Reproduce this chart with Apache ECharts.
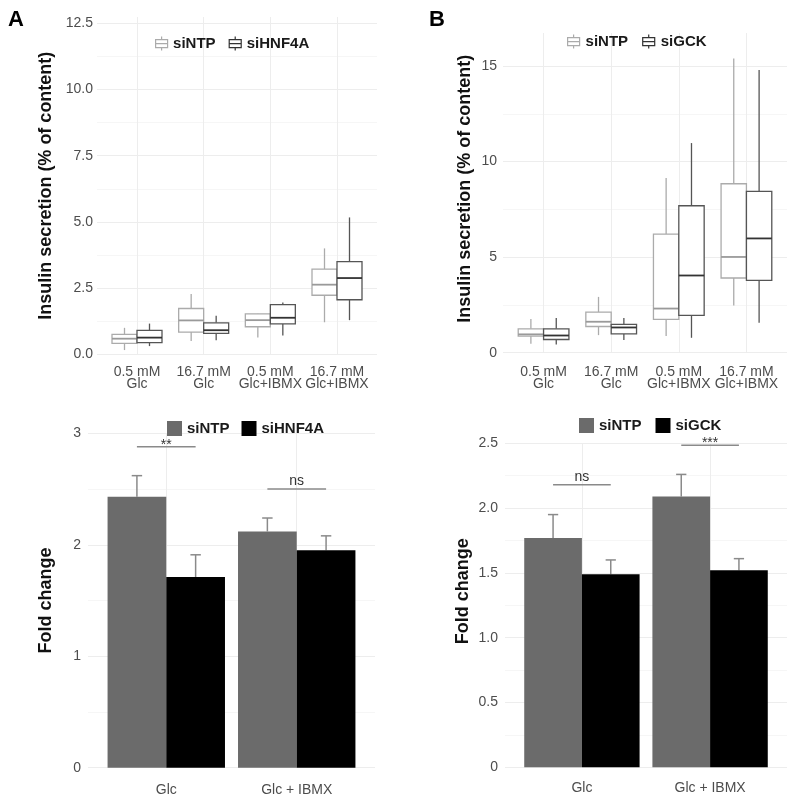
<!DOCTYPE html>
<html><head><meta charset="utf-8">
<script src="https://cdn.jsdelivr.net/npm/echarts@6/dist/echarts.min.js"></script>
<style>html,body{margin:0;padding:0;background:#fff}#c{width:789px;height:799px}</style>
</head><body><div id="c"></div>
<script>
// ---------- DATA ----------
const boxCategories = ['0.5 mM\nGlc', '16.7 mM\nGlc', '0.5 mM\nGlc+IBMX', '16.7 mM\nGlc+IBMX'];
const barCategories = ['Glc', 'Glc + IBMX'];
// boxplots: [min, q1, median, q3, max]
const boxA_siNTP   = [[0.16,0.41,0.59,0.75,1.00],[0.50,0.84,1.28,1.73,2.28],[0.63,1.04,1.29,1.53,1.54],[1.21,2.23,2.63,3.22,4.00]];
const boxA_siHNF4A = [[0.31,0.44,0.63,0.90,1.16],[0.53,0.79,0.91,1.19,1.46],[0.71,1.15,1.38,1.88,1.96],[1.29,2.06,2.88,3.50,5.17]];
const boxB_siNTP   = [[0.47,0.87,0.96,1.25,1.77],[0.92,1.37,1.62,2.12,2.92],[0.87,1.74,2.31,6.21,9.14],[2.47,3.91,5.01,8.84,15.40]];
const boxB_siGCK   = [[0.43,0.69,0.90,1.25,1.81],[0.66,0.99,1.32,1.48,1.81],[0.78,1.95,4.04,7.69,10.97],[1.57,3.78,5.98,8.44,14.79]];
// fold change bars: mean and SE
const barA_siNTP_mean = [2.43, 2.12];   const barA_siNTP_se = [0.19, 0.12];
const barA_siHNF4A_mean = [1.71, 1.95]; const barA_siHNF4A_se = [0.20, 0.13];
const barB_siNTP_mean = [1.77, 2.09];   const barB_siNTP_se = [0.18, 0.17];
const barB_siGCK_mean = [1.49, 1.52];   const barB_siGCK_se = [0.11, 0.09];
// significance brackets
const sigA_y = [2.88, 2.50]; const sigA_labels = ['**', 'ns'];
const sigB_y = [2.18, 2.485]; const sigB_labels = ['ns', '***'];
const yTicksTopA = [0, 2.5, 5, 7.5, 10, 12.5];
const yTicksTopB = [0, 5, 10, 15];

// ---------- STYLE ----------
const FONT = "'Liberation Sans', Arial, sans-serif";
const BOX_W = 0.375, BAR_W = 0.45, CAP_W = 0.08;
const C_NTP_BOX = '#ababab', C_KD_BOX = '#555555';
const C_NTP_BAR = '#6b6b6b', C_KD_BAR = '#000000', C_ERR = '#8a8a8a';
const GRID_MAJOR = '#ededed', GRID_MINOR = '#f6f6f6';
const BOX_ICON = 'path://M6,0L6,3M0,3L12,3L12,11L0,11ZM0,7L12,7M6,11L6,14';

function boxRows(arr) { return arr.map((v, i) => [i + 1].concat(v)); }
function barRows(mean, se) { return mean.map((v, i) => [i + 1, v, se[i]]); }
function sigRows(ys) { return ys.map((v, i) => [i + 1, v]); }

function boxRender(offset, color, medColor) {
  return function (params, api) {
    const x = api.value(0) + offset;
    const w = api.size([BOX_W, 0])[0];
    const pMin = api.coord([x, api.value(1)]);
    const pQ1 = api.coord([x, api.value(2)]);
    const pMed = api.coord([x, api.value(3)]);
    const pQ3 = api.coord([x, api.value(4)]);
    const pMax = api.coord([x, api.value(5)]);
    const cx = pMin[0], l = cx - w / 2;
    const ls = { stroke: color, lineWidth: 1.3 };
    return { type: 'group', children: [
      { type: 'line', shape: { x1: cx, y1: pMax[1], x2: cx, y2: pQ3[1] }, style: ls },
      { type: 'line', shape: { x1: cx, y1: pQ1[1], x2: cx, y2: pMin[1] }, style: ls },
      { type: 'rect', shape: { x: l, y: pQ3[1], width: w, height: pQ1[1] - pQ3[1] }, style: { stroke: color, lineWidth: 1.3, fill: '#fff' } },
      { type: 'line', shape: { x1: l, y1: pMed[1], x2: l + w, y2: pMed[1] }, style: { stroke: medColor, lineWidth: 1.8 } }
    ]};
  };
}
function barRender(offset, color) {
  return function (params, api) {
    const x = api.value(0) + offset;
    const w = api.size([BAR_W, 0])[0];
    const capW = api.size([CAP_W, 0])[0];
    const top = api.coord([x, api.value(1)]);
    const base = api.coord([x, 0]);
    const err = api.coord([x, api.value(1) + api.value(2)]);
    const es = { stroke: C_ERR, lineWidth: 1.5 };
    return { type: 'group', children: [
      { type: 'line', shape: { x1: top[0], y1: top[1], x2: top[0], y2: err[1] }, style: es },
      { type: 'line', shape: { x1: top[0] - capW / 2, y1: err[1], x2: top[0] + capW / 2, y2: err[1] }, style: es },
      { type: 'rect', shape: { x: top[0] - w / 2, y: top[1], width: w, height: base[1] - top[1] }, style: { fill: color } }
    ]};
  };
}
function sigRender(labels) {
  return function (params, api) {
    const c = api.value(0);
    const p1 = api.coord([c - BAR_W / 2, api.value(1)]);
    const p2 = api.coord([c + BAR_W / 2, api.value(1)]);
    const lab = labels[params.dataIndex];
    const star = lab.indexOf('*') >= 0;
    return { type: 'group', children: [
      { type: 'line', shape: { x1: p1[0], y1: p1[1], x2: p2[0], y2: p2[1] }, style: { stroke: C_ERR, lineWidth: 1.5 } },
      { type: 'text', x: (p1[0] + p2[0]) / 2, y: p1[1] + (star ? 5 : -1),
        style: { text: lab, fontSize: 14, fontFamily: FONT, fill: '#333', align: 'center', verticalAlign: 'bottom' } }
    ]};
  };
}

function xAxisBox(gi, margin) {
  return { gridIndex: gi, type: 'value', min: 0.4, max: 4.6,
    axisLine: { show: false }, axisTick: { show: false, customValues: [1, 2, 3, 4] },
    axisLabel: { customValues: [1, 2, 3, 4], formatter: v => boxCategories[Math.round(v) - 1] || '', margin: margin,
      fontSize: 14, lineHeight: 12, color: '#4d4d4d', fontFamily: FONT },
    splitLine: { show: true, lineStyle: { color: GRID_MAJOR, width: 1 } } };
}
function xAxisBar(gi, margin) {
  return { gridIndex: gi, type: 'value', min: 0.4, max: 2.6,
    axisLine: { show: false }, axisTick: { show: false, customValues: [1, 2] },
    axisLabel: { customValues: [1, 2], formatter: v => barCategories[Math.round(v) - 1] || '', margin: margin,
      fontSize: 14, color: '#4d4d4d', fontFamily: FONT },
    splitLine: { show: true, lineStyle: { color: GRID_MAJOR, width: 1 } } };
}
function yAxisDef(gi, max, interval, fmt, name, gap, pad, labMargin, showMax) {
  return { gridIndex: gi, type: 'value', min: 0, max: max, interval: interval,
    name: name, nameLocation: 'middle', nameGap: gap,
    nameTextStyle: { fontSize: 18, fontWeight: 'bold', color: '#111', fontFamily: FONT, padding: pad },
    axisLine: { show: false }, axisTick: { show: false },
    axisLabel: { formatter: fmt, showMaxLabel: showMax, fontSize: 14, color: '#4d4d4d', fontFamily: FONT, margin: labMargin },
    splitLine: { show: true, showMaxLine: showMax, lineStyle: { color: GRID_MAJOR, width: 1 } },
    minorTick: { show: false, splitNumber: 2 },
    minorSplitLine: { show: true, lineStyle: { color: GRID_MINOR, width: 1 } } };
}

const legendText = { fontSize: 15, fontWeight: 'bold', color: '#1a1a1a', fontFamily: FONT };

const option = {
  animation: false,
  backgroundColor: '#fff',
  title: [
    { text: 'A', left: 3, top: 4, textStyle: { fontSize: 22, fontWeight: 'bold', color: '#000', fontFamily: FONT } },
    { text: 'B', left: 424, top: 4, textStyle: { fontSize: 22, fontWeight: 'bold', color: '#000', fontFamily: FONT } }
  ],
  legend: [
    { left: 150, top: 31, itemWidth: 13, itemHeight: 14, itemGap: 13, textStyle: legendText, selectedMode: false,
      data: [ { name: 'siNTP', icon: BOX_ICON, itemStyle: { color: '#fff', borderColor: C_NTP_BOX, borderWidth: 1.2 } },
              { name: 'siHNF4A', icon: BOX_ICON, itemStyle: { color: '#fff', borderColor: '#333', borderWidth: 1.2 } } ] },
    { left: 562, top: 29, itemWidth: 14, itemHeight: 14, itemGap: 14, textStyle: legendText, selectedMode: false,
      data: [ { name: 'siNTP', icon: BOX_ICON, itemStyle: { color: '#fff', borderColor: C_NTP_BOX, borderWidth: 1.2 } },
              { name: 'siGCK', icon: BOX_ICON, itemStyle: { color: '#fff', borderColor: '#333', borderWidth: 1.2 } } ] },
    { left: 162, top: 416, itemWidth: 15, itemHeight: 15, itemGap: 12, textStyle: legendText, selectedMode: false,
      data: [ { name: 'siNTP', icon: 'rect', itemStyle: { color: C_NTP_BAR, borderWidth: 0 } },
              { name: 'siHNF4A', icon: 'rect', itemStyle: { color: C_KD_BAR, borderWidth: 0 } } ] },
    { left: 574, top: 413, itemWidth: 15, itemHeight: 15, itemGap: 14, textStyle: legendText, selectedMode: false,
      data: [ { name: 'siNTP', icon: 'rect', itemStyle: { color: C_NTP_BAR, borderWidth: 0 } },
              { name: 'siGCK', icon: 'rect', itemStyle: { color: C_KD_BAR, borderWidth: 0 } } ] }
  ],
  grid: [
    { left: 97, right: 412, top: 17, bottom: 444.7 },
    { left: 503, right: 2, top: 33, bottom: 446.3 },
    { left: 88, right: 414, top: 433.3, bottom: 31.3 },
    { left: 505, right: 2, top: 443.3, bottom: 31.7 }
  ],
  xAxis: [ xAxisBox(0, 12), xAxisBox(1, 13), xAxisBar(2, 15), xAxisBar(3, 14) ],
  yAxis: [
    yAxisDef(0, 12.74, 2.5, v => (yTicksTopA.indexOf(v) >= 0 ? v.toFixed(1) : ''), 'Insulin secretion (% of content)', 42, [0, 0, 0, 0], 4, false),
    yAxisDef(1, 16.73, 5, v => (yTicksTopB.indexOf(v) >= 0 ? String(v) : ''), 'Insulin secretion (% of content)', 29, [0, 0, 0, 8], 6, false),
    yAxisDef(2, 3, 1, v => String(v), 'Fold change', 33, [0, 0, 0, 0], 7, true),
    yAxisDef(3, 2.5, 0.5, v => (v === 0 ? '0' : v.toFixed(1)), 'Fold change', 33, [0, 0, 0, 28], 7, true)
  ],
  series: [
    { name: 'siNTP', type: 'custom', xAxisIndex: 0, yAxisIndex: 0, itemStyle: { color: C_NTP_BOX },
      encode: { x: 0, y: [1, 2, 3, 4, 5] }, data: boxRows(boxA_siNTP), renderItem: boxRender(-BOX_W / 2, C_NTP_BOX, '#9a9a9a') },
    { name: 'siHNF4A', type: 'custom', xAxisIndex: 0, yAxisIndex: 0, itemStyle: { color: C_KD_BOX },
      encode: { x: 0, y: [1, 2, 3, 4, 5] }, data: boxRows(boxA_siHNF4A), renderItem: boxRender(BOX_W / 2, C_KD_BOX, '#333') },
    { name: 'siNTP', type: 'custom', xAxisIndex: 1, yAxisIndex: 1, itemStyle: { color: C_NTP_BOX },
      encode: { x: 0, y: [1, 2, 3, 4, 5] }, data: boxRows(boxB_siNTP), renderItem: boxRender(-BOX_W / 2, C_NTP_BOX, '#9a9a9a') },
    { name: 'siGCK', type: 'custom', xAxisIndex: 1, yAxisIndex: 1, itemStyle: { color: C_KD_BOX },
      encode: { x: 0, y: [1, 2, 3, 4, 5] }, data: boxRows(boxB_siGCK), renderItem: boxRender(BOX_W / 2, C_KD_BOX, '#333') },
    { name: 'siNTP', type: 'custom', xAxisIndex: 2, yAxisIndex: 2, itemStyle: { color: C_NTP_BAR },
      encode: { x: 0, y: 1 }, data: barRows(barA_siNTP_mean, barA_siNTP_se), renderItem: barRender(-BAR_W / 2, C_NTP_BAR) },
    { name: 'siHNF4A', type: 'custom', xAxisIndex: 2, yAxisIndex: 2, itemStyle: { color: C_KD_BAR },
      encode: { x: 0, y: 1 }, data: barRows(barA_siHNF4A_mean, barA_siHNF4A_se), renderItem: barRender(BAR_W / 2, C_KD_BAR) },
    { name: 'sigA', type: 'custom', xAxisIndex: 2, yAxisIndex: 2,
      encode: { x: 0, y: 1 }, data: sigRows(sigA_y), renderItem: sigRender(sigA_labels) },
    { name: 'siNTP', type: 'custom', xAxisIndex: 3, yAxisIndex: 3, itemStyle: { color: C_NTP_BAR },
      encode: { x: 0, y: 1 }, data: barRows(barB_siNTP_mean, barB_siNTP_se), renderItem: barRender(-BAR_W / 2, C_NTP_BAR) },
    { name: 'siGCK', type: 'custom', xAxisIndex: 3, yAxisIndex: 3, itemStyle: { color: C_KD_BAR },
      encode: { x: 0, y: 1 }, data: barRows(barB_siGCK_mean, barB_siGCK_se), renderItem: barRender(BAR_W / 2, C_KD_BAR) },
    { name: 'sigB', type: 'custom', xAxisIndex: 3, yAxisIndex: 3,
      encode: { x: 0, y: 1 }, data: sigRows(sigB_y), renderItem: sigRender(sigB_labels) }
  ]
};
const chart = echarts.init(document.getElementById('c'));
chart.setOption(option);
</script></body></html>
